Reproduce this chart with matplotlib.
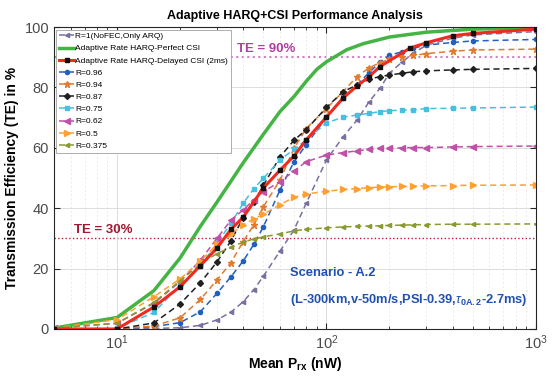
import numpy as np
import matplotlib
matplotlib.use("Agg")
import matplotlib.pyplot as plt
from matplotlib.ticker import LogLocator, NullFormatter

plt.rcParams["font.family"] = ["Liberation Sans", "DejaVu Sans"]
plt.rcParams["mathtext.fontset"] = "custom"
plt.rcParams["mathtext.rm"] = "Liberation Sans"
plt.rcParams["mathtext.it"] = "Liberation Sans:italic"
plt.rcParams["mathtext.bf"] = "Liberation Sans:bold"

# Data
x_fixed = [5, 10, 15, 20, 25, 30, 35, 40, 45, 50, 60, 70, 80, 100, 120, 140,
           160, 180, 200, 230, 260, 300, 400, 500, 1000]

te_r100 = [0, 0, 0.2, 0.4, 1.2, 3.0, 5.6, 9.0, 13.0, 17.5, 25.8, 32.8, 41.6, 56.0,
           63.6, 69.2, 75.3, 79.7, 84.7, 88.5, 91.3, 94.0, 96.3, 97.4, 98.5]
te_r096 = [0, 0, 0.8, 2.1, 5.7, 11.8, 17.3, 22.5, 28.0, 33.9, 46.0, 55.4, 61.0, 70.1,
           76.4, 80.8, 85.0, 88.3, 90.7, 91.8, 93.0, 94.0, 94.9, 95.4, 95.9]
te_r094 = [0, 0, 1.0, 3.7, 9.8, 16.2, 22.0, 28.9, 34.5, 40.5, 49.3, 59.8, 66.4, 73.0,
           78.6, 83.6, 86.5, 88.2, 89.3, 90.1, 90.6, 91.2, 92.0, 92.4, 92.7]
te_r087 = [0, 0, 2.0, 8.3, 15.3, 22.2, 29.2, 36.8, 42.0, 47.6, 57.0, 62.5, 66.0, 73.4,
           78.6, 80.8, 82.7, 83.6, 84.1, 84.7, 85.2, 85.5, 85.8, 86.0, 86.3]
te_r075 = [0, 0.2, 5.5, 14.5, 20.8, 28.4, 35.0, 41.6, 46.5, 49.9, 56.0, 59.5, 62.6, 68.3,
           70.1, 70.9, 71.4, 72.0, 72.3, 72.5, 72.6, 73.0, 73.1, 73.2, 73.5]
te_r062 = [0.3, 1.9, 8.5, 15.7, 22.8, 30.0, 36.1, 39.4, 42.8, 45.5, 48.8, 52.3, 55.4, 57.6,
           58.4, 59.0, 59.5, 59.8, 59.8, 60.0, 60.1, 60.1, 60.3, 60.4, 60.6]
te_r050 = [0.3, 3.1, 10.7, 16.6, 22.5, 28.0, 31.5, 34.5, 36.5, 38.0, 41.2, 43.6, 44.7, 45.6,
           46.2, 46.5, 46.8, 47.0, 47.1, 47.2, 47.3, 47.4, 47.5, 47.6, 47.7]
te_r0375 = [0.3, 1.9, 8.8, 16.0, 21.5, 25.0, 27.0, 28.8, 29.8, 30.5, 31.5, 32.5, 33.0, 33.5,
            33.8, 34.0, 34.1, 34.2, 34.3, 34.4, 34.5, 34.6, 34.7, 34.7, 34.8]

x_perfect = [5, 10, 15, 20, 25, 30, 40, 50, 60, 70, 80, 90, 100, 125, 150, 200, 300, 500, 1000]
te_perfect = [0.3, 3.8, 12.7, 23.5, 34.0, 42.0, 55.0, 64.5, 72.0, 77.0, 82.0, 86.0, 88.5,
              92.5, 94.5, 96.7, 98.3, 99.3, 99.8]

x_delayed = [5, 10, 15, 20, 25, 30, 35, 40, 50, 60, 70, 80, 100, 120, 140, 160, 180,
             250, 300, 400, 500, 1000]
te_delayed = [0, 0, 7.3, 14.0, 21.0, 26.8, 33.0, 37.0, 46.7, 52.6, 57.3, 62.6, 70.2, 76.5,
              80.5, 83.6, 86.9, 93.0, 94.8, 97.1, 97.9, 99.3]

fixed_series = [
    ("R=1(NoFEC,Only ARQ)", te_r100, "#7B6FA0", "<", 3),
    ("R=0.96", te_r096, "#2060C0", "o", 3),
    ("R=0.94", te_r094, "#E07B30", "*", 5),
    ("R=0.87", te_r087, "#202020", "D", 3),
    ("R=0.75", te_r075, "#45C0E0", "s", 3),
    ("R=0.62", te_r062, "#C050A8", "<", 4),
    ("R=0.5", te_r050, "#FFA030", ">", 4),
    ("R=0.375", te_r0375, "#8A9A30", "<", 3),
]

fig = plt.figure(figsize=(5.52, 3.81), dpi=100)
ax = fig.add_axes([0.0978, 0.1365, 0.873, 0.7925])

handles = []
h, = ax.plot(x_fixed, te_r100, color="#7B6FA0", ls="--", dashes=(4, 2.5), lw=1.1,
             marker="<", ms=3, label=fixed_series[0][0])
handles.append(h)
h, = ax.plot(x_perfect, te_perfect, color="#44B444", lw=2.5,
             label="Adaptive Rate HARQ-Perfect CSI")
handles.append(h)
h_red, = ax.plot(x_delayed, te_delayed, color="#F02A1E", lw=2.2, marker="s", ms=3,
                 mfc="#111111", mec="#111111", label="Adaptive Rate HARQ-Delayed CSI (2ms)", zorder=5)
handles.append(h_red)
for label, te, color, marker, ms in fixed_series[1:]:
    h, = ax.plot(x_fixed, te, color=color, ls="--", dashes=(4, 2.5), lw=1.1,
                 marker=marker, ms=ms, label=label)
    handles.append(h)

# TE reference lines
ax.axhline(90, color="#D080C8", ls=":", lw=1.5, zorder=1)
ax.axhline(30, color="#C01830", ls=":", lw=1.0, zorder=1)
ax.text(37.5, 91.8, "TE = 90%", color="#B040A0", fontsize=9.5, fontweight="bold")
ax.text(6.2, 31.8, "TE = 30%", color="#A01830", fontsize=9.5, fontweight="bold")

ax.text(67, 17.5, "Scenario - A.2", color="#2050B0", fontsize=9.3, fontweight="bold")
ax.text(67, 8.5, r"(L-300km,v-50m/s,PSI-0.39,$\tau_{\mathbf{0A.2}}$-2.7ms)",
        color="#2050B0", fontsize=9.3, fontweight="bold")

ax.set_xscale("log")
ax.set_xlim(5, 1000)
ax.set_ylim(0, 100)
ax.set_yticks([0, 20, 40, 60, 80, 100])
ax.xaxis.set_minor_locator(LogLocator(base=10, subs=np.arange(2, 10), numticks=20))
ax.xaxis.set_minor_formatter(NullFormatter())

ax.grid(True, which="major", color="#D8D8D8", lw=0.6)
ax.grid(True, which="minor", axis="x", color="#E4E4E4", lw=0.5, ls=(0, (3, 3)))
ax.tick_params(which="both", direction="in", top=True, right=True, colors="#262626",
               labelcolor="#4A4A4A", labelsize=10.5)
ax.tick_params(which="major", length=4)
ax.tick_params(which="minor", length=2.5)
for s in ax.spines.values():
    s.set_color("#262626")
    s.set_linewidth(0.8)

ax.set_xlabel(r"Mean P$_{\mathbf{rx}}$ (nW)", fontsize=10, fontweight="bold", labelpad=2)
ax.set_ylabel("Transmission Efficiency (TE) in %", fontsize=10, fontweight="bold", labelpad=4)
ax.set_title("Adaptive HARQ+CSI Performance Analysis", fontsize=9, fontweight="bold", pad=6)

leg = ax.legend(handles=handles, loc="upper left", bbox_to_anchor=(0.0, 1.0),
                fontsize=6.0, handlelength=1.8, handletextpad=0.1, labelspacing=0.52,
                borderpad=0.35, borderaxespad=0.3, fancybox=False, framealpha=1)
leg.get_frame().set_edgecolor("#A0A0A0")
leg.get_frame().set_linewidth(0.6)

fig.savefig("out.png", dpi=100)
